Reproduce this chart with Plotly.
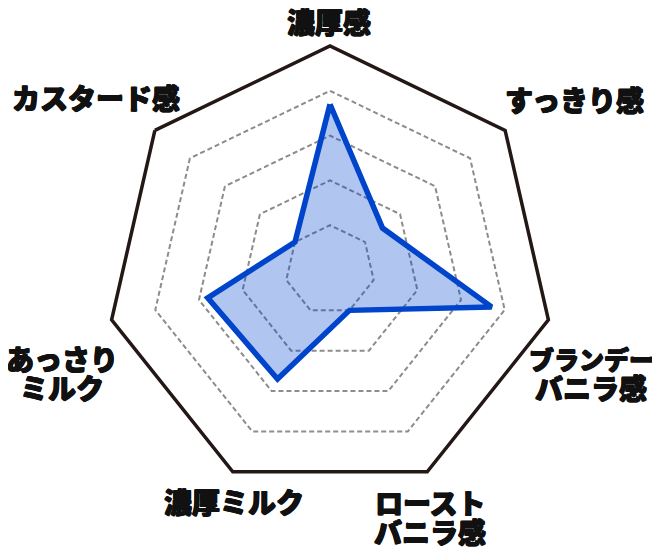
import plotly.graph_objects as go

# radar axes, clockwise from the top
categories = ["濃厚感", "すっきり感", "ブランデーバニラ感", "ローストバニラ感",
              "濃厚ミルク", "あっさりミルク", "カスタード感"]
scores = [3.7, 1.5, 3.7, 1.0, 2.7, 2.8, 1.0]

# how each axis label is broken into lines
label_lines = [["濃厚感"], ["すっきり感"], ["ブランデー", "バニラ感"], ["ロースト", "バニラ感"],
               ["濃厚ミルク"], ["あっさり", "ミルク"], ["カスタード感"]]

# the page body has an 8px margin, so the figure is drawn a bit smaller
OFF = 8
W, H = 660 - OFF, 555 - OFF
# label centres in page pixels (x, y of first line)
label_pos = [(329, 21), (574, 99), (591, 358), (430, 502), (234, 501), (62, 358), (96, 97)]
LINE_GAP = 29


def px(x):
    return (x - OFF) / W


def py(y):
    return 1 - (y - OFF) / H


fig = go.Figure()
fig.add_trace(go.Scatterpolar(
    r=scores + scores[:1],
    theta=categories + categories[:1],
    mode="lines",
    fill="toself",
    fillcolor="rgba(0,70,205,0.31)",
    line=dict(color="#0044cc", width=5.5),
    hoverinfo="skip",
    showlegend=False,
))

thick = "0.5px 0.5px 0 #111, -0.5px -0.5px 0 #111, 0.5px -0.5px 0 #111, -0.5px 0.5px 0 #111"
annotations = []
for lines, (lx, ly) in zip(label_lines, label_pos):
    for i, txt in enumerate(lines):
        size = 25 if len(txt) >= 5 and lines[0] == "ブランデー" else 28
        annotations.append(dict(
            text=txt, x=px(lx), y=py(ly + i * LINE_GAP),
            xref="paper", yref="paper", xanchor="center", yanchor="middle",
            showarrow=False,
            font=dict(family="Noto Sans CJK JP", size=size, color="#111111",
                      weight=900, shadow=thick),
        ))

cx, cy, R = 330, 270, 224
fig.update_layout(
    width=W, height=H,
    margin=dict(l=0, r=0, t=0, b=0),
    paper_bgcolor="white",
    polar=dict(
        domain=dict(x=[px(cx - R), px(cx + R)], y=[py(cy + R), py(cy - R)]),
        gridshape="linear",
        bgcolor="white",
        angularaxis=dict(
            type="category", rotation=90, direction="clockwise",
            showline=True, linecolor="#231815", linewidth=3.5,
            showgrid=False, showticklabels=False, ticks="",
        ),
        radialaxis=dict(
            range=[0, 5], tickvals=[1, 2, 3, 4],
            showline=False, showticklabels=False, ticks="",
            gridcolor="#8c8c8c", gridwidth=1.5, griddash="5px,3px",
        ),
    ),
    annotations=annotations,
)

fig.write_html("out.html")
